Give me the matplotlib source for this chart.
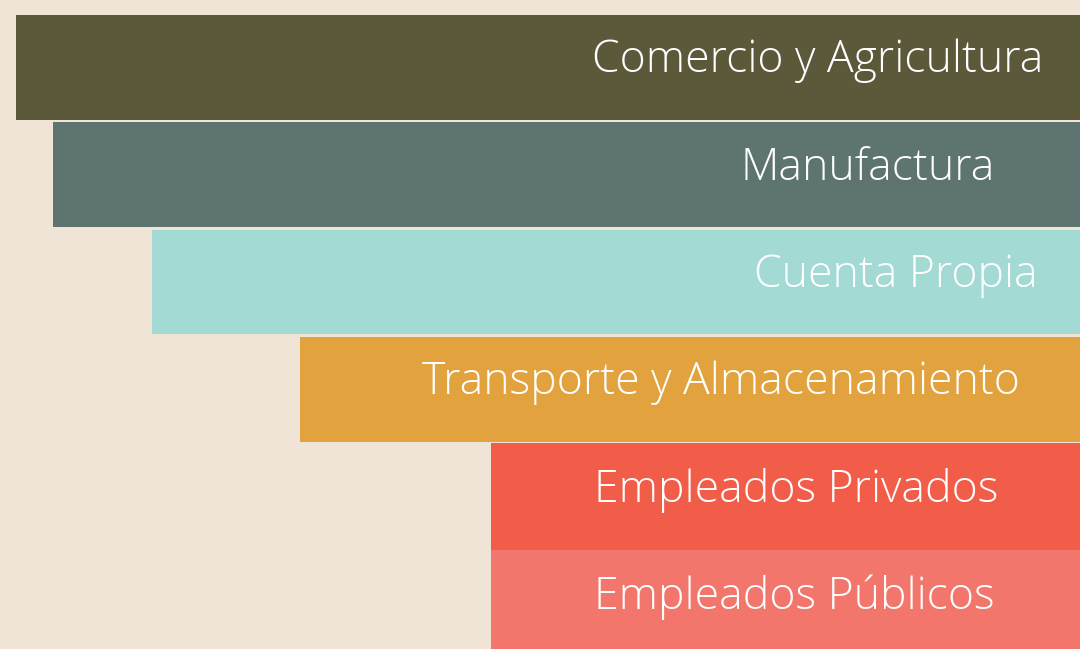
import matplotlib
matplotlib.use("Agg")
import matplotlib.pyplot as plt

categories = ["Comercio y Agricultura", "Manufactura", "Cuenta Propia",
              "Transporte y Almacenamiento", "Empleados Privados", "Empleados Públicos"]
values = [98.5, 95.1, 85.9, 72.2, 54.5, 54.5]
colors = ["#5C593B", "#5E7470", "#A3DAD3", "#E2A23E", "#F25D4A", "#F2766B"]
heights = [0.975, 0.975, 0.975, 0.975, 1.0, 1.0]
label_right = [3.4, 7.9, 3.9, 5.6, 7.6, 7.9]   # label right-edge offset from right end
bg = "#EFE4D6"

fig = plt.figure(figsize=(10.8, 6.49), dpi=100)
fig.patch.set_facecolor(bg)
ax = fig.add_axes([0, 0, 1, 1])
ax.set_facecolor(bg)

ypos = list(range(len(categories)))
ax.barh(ypos, values, height=heights, color=colors, left=0, linewidth=0)
ax.set_xlim(100, 0)
ax.set_ylim(5.42, -0.629)
ax.axis("off")

for i, (cat, off) in enumerate(zip(categories, label_right)):
    ax.text(off, i - 0.06, cat, ha="right", va="center", color="white",
            fontsize=32, family=["Open Sans", "DejaVu Sans"], fontweight="light")

fig.savefig("out.png", dpi=100, facecolor=bg)
